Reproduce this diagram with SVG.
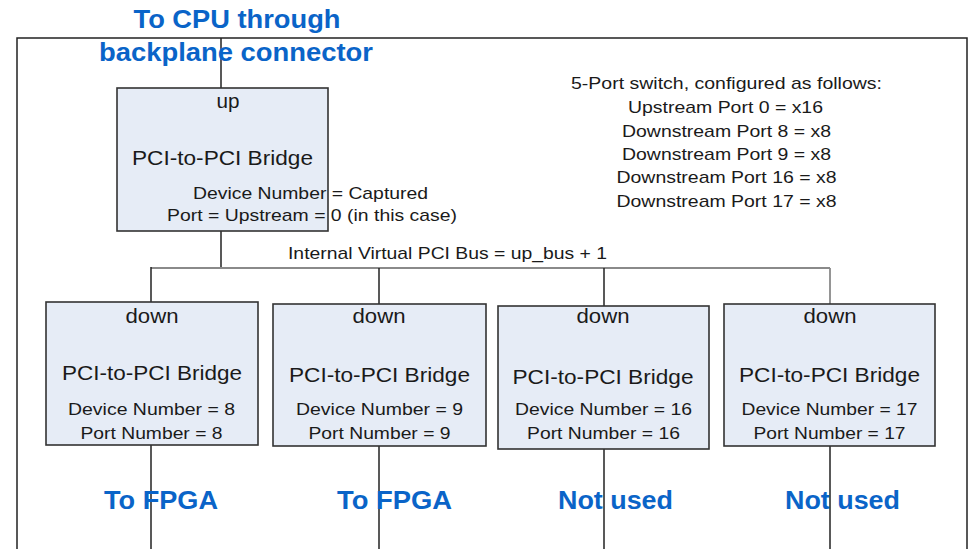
<svg xmlns="http://www.w3.org/2000/svg" width="971" height="549" viewBox="0 0 971 549">
<style>
.box{fill:#e6ecf6;stroke:#333;stroke-width:1.6}
.ln{stroke:#222;stroke-width:1.5;fill:none}
.gl{stroke:#8a8a8a;stroke-width:1.8;fill:none}
.t{font-family:"Liberation Sans",Arial,sans-serif;fill:#1a1a1a;text-anchor:middle}
.b{font-family:"Liberation Sans",Arial,sans-serif;font-weight:bold;fill:#0a64c8;text-anchor:middle;font-size:26px}
</style>
<rect width="971" height="549" fill="#fff"/>
<g id="frame">
<path class="ln" d="M17 549 V38 H967 V549"/>
</g>
<g id="connectors">
<path class="ln" d="M221 38 V88"/>
<path class="ln" d="M221 231 V268"/>
<path class="gl" d="M151 268 H830"/>
<path class="ln" d="M151 267 V302"/>
<path class="ln" d="M379 268 V304"/>
<path class="ln" d="M604 268 V306"/>
<path class="gl" d="M830 268 V304"/>
<path class="ln" d="M151 445 V549"/>
<path class="ln" d="M379 446 V549"/>
<path class="ln" d="M604 449 V549"/>
<path class="ln" d="M830 446 V549"/>
</g>
<g id="title">
<text class="b" x="237" y="28" textLength="207" lengthAdjust="spacingAndGlyphs">To CPU through</text>
<text class="b" x="236" y="61" textLength="274" lengthAdjust="spacingAndGlyphs">backplane connector</text>
</g>
<g id="up-bridge">
<rect class="box" x="117" y="88" width="211" height="143"/>
<text class="t" x="228" y="108" font-size="20" textLength="23" lengthAdjust="spacingAndGlyphs">up</text>
<text class="t" x="222.5" y="165" font-size="21" textLength="181" lengthAdjust="spacingAndGlyphs">PCI-to-PCI Bridge</text>
<text class="t" x="310.5" y="199" font-size="17" textLength="235" lengthAdjust="spacingAndGlyphs">Device Number = Captured</text>
<text class="t" x="312" y="221" font-size="17" textLength="290" lengthAdjust="spacingAndGlyphs">Port = Upstream = 0 (in this case)</text>
</g>
<g id="config">
<text class="t" x="726.5" y="89" font-size="17" textLength="311" lengthAdjust="spacingAndGlyphs">5-Port switch, configured as follows:</text>
<text class="t" x="725.5" y="113" font-size="17" textLength="195" lengthAdjust="spacingAndGlyphs">Upstream Port 0 = x16</text>
<text class="t" x="726.5" y="137" font-size="17" textLength="209" lengthAdjust="spacingAndGlyphs">Downstream Port 8 = x8</text>
<text class="t" x="726.5" y="160" font-size="17" textLength="209" lengthAdjust="spacingAndGlyphs">Downstream Port 9 = x8</text>
<text class="t" x="726.5" y="183" font-size="17" textLength="220" lengthAdjust="spacingAndGlyphs">Downstream Port 16 = x8</text>
<text class="t" x="726.5" y="207" font-size="17" textLength="220" lengthAdjust="spacingAndGlyphs">Downstream Port 17 = x8</text>
</g>
<g id="bus-label">
<text class="t" x="447.5" y="259" font-size="17" textLength="319" lengthAdjust="spacingAndGlyphs">Internal Virtual PCI Bus = up_bus + 1</text>
</g>
<g id="down-8">
<rect class="box" x="46" y="302" width="212" height="143"/>
<text class="t" x="152" y="323" font-size="20" textLength="53" lengthAdjust="spacingAndGlyphs">down</text>
<text class="t" x="152" y="380" font-size="21" textLength="180" lengthAdjust="spacingAndGlyphs">PCI-to-PCI Bridge</text>
<text class="t" x="151.5" y="415" font-size="17" textLength="167" lengthAdjust="spacingAndGlyphs">Device Number = 8</text>
<text class="t" x="151.5" y="439" font-size="17" textLength="142" lengthAdjust="spacingAndGlyphs">Port Number = 8</text>
</g>
<g id="down-9">
<rect class="box" x="273" y="304" width="213" height="142"/>
<text class="t" x="379" y="323" font-size="20" textLength="53" lengthAdjust="spacingAndGlyphs">down</text>
<text class="t" x="379.5" y="382" font-size="21" textLength="181" lengthAdjust="spacingAndGlyphs">PCI-to-PCI Bridge</text>
<text class="t" x="379.5" y="415" font-size="17" textLength="167" lengthAdjust="spacingAndGlyphs">Device Number = 9</text>
<text class="t" x="379.5" y="439" font-size="17" textLength="142" lengthAdjust="spacingAndGlyphs">Port Number = 9</text>
</g>
<g id="down-16">
<rect class="box" x="498" y="306" width="211" height="143"/>
<text class="t" x="603" y="323" font-size="20" textLength="53" lengthAdjust="spacingAndGlyphs">down</text>
<text class="t" x="603" y="384" font-size="21" textLength="181" lengthAdjust="spacingAndGlyphs">PCI-to-PCI Bridge</text>
<text class="t" x="603.5" y="415" font-size="17" textLength="177" lengthAdjust="spacingAndGlyphs">Device Number = 16</text>
<text class="t" x="603.5" y="439" font-size="17" textLength="153" lengthAdjust="spacingAndGlyphs">Port Number = 16</text>
</g>
<g id="down-17">
<rect class="box" x="724" y="304" width="211" height="142"/>
<text class="t" x="830" y="323" font-size="20" textLength="53" lengthAdjust="spacingAndGlyphs">down</text>
<text class="t" x="829.5" y="382" font-size="21" textLength="181" lengthAdjust="spacingAndGlyphs">PCI-to-PCI Bridge</text>
<text class="t" x="829.5" y="415" font-size="17" textLength="176" lengthAdjust="spacingAndGlyphs">Device Number = 17</text>
<text class="t" x="829.5" y="439" font-size="17" textLength="152" lengthAdjust="spacingAndGlyphs">Port Number = 17</text>
</g>
<g id="bottom-labels">
<text class="b" x="161" y="509" textLength="114" lengthAdjust="spacingAndGlyphs">To FPGA</text>
<text class="b" x="394.5" y="509" textLength="115" lengthAdjust="spacingAndGlyphs">To FPGA</text>
<text class="b" x="615.5" y="509" textLength="115" lengthAdjust="spacingAndGlyphs">Not used</text>
<text class="b" x="842.5" y="509" textLength="115" lengthAdjust="spacingAndGlyphs">Not used</text>
</g>
</svg>
